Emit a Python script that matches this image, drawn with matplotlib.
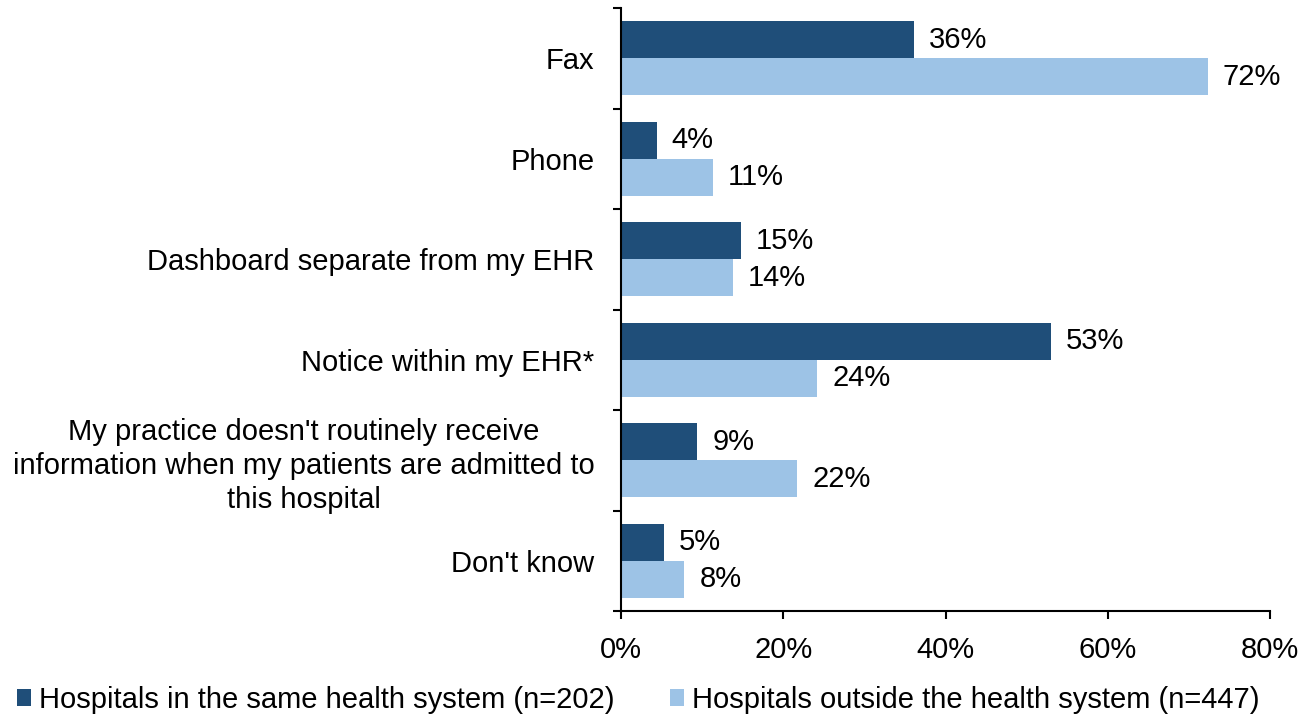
import matplotlib
matplotlib.use("Agg")
import matplotlib.pyplot as plt
import numpy as np

categories = [
    "Fax",
    "Phone",
    "Dashboard separate from my EHR",
    "Notice within my EHR*",
    "My practice doesn't routinely receive\ninformation when my patients are admitted to\nthis hospital",
    "Don't know",
]
same_system = [36.1, 4.4, 14.8, 53.0, 9.4, 5.3]
outside_system = [72.3, 11.3, 13.8, 24.2, 21.7, 7.8]
same_labels = ["36%", "4%", "15%", "53%", "9%", "5%"]
outside_labels = ["72%", "11%", "14%", "24%", "22%", "8%"]
series_names = ["Hospitals in the same health system (n=202)",
                "Hospitals outside the health system (n=447)"]
x_ticks = [0, 20, 40, 60, 80]

dark = "#1F4E79"
light = "#9DC3E6"

plt.rcParams['font.family'] = ['Liberation Sans', 'DejaVu Sans']
fs = 21

fig = plt.figure(figsize=(13.1, 7.21), dpi=100)
ax = fig.add_axes([621/1310, 1-611/721, (1270-621)/1310, (611-8)/721])

y = np.arange(len(categories))
h = 0.37
b1 = ax.barh(y - h/2, same_system, height=h, color=dark, label=series_names[0])
b2 = ax.barh(y + h/2, outside_system, height=h, color=light, label=series_names[1])

for bars, labs in ((b1, same_labels), (b2, outside_labels)):
    for rect, lab in zip(bars, labs):
        ax.annotate(lab, (rect.get_width(), rect.get_y() + rect.get_height()/2),
                    xytext=(15, 0), textcoords="offset pixels",
                    ha="left", va="center", fontsize=fs, color="black")

ax.set_xlim(0, 80)
ax.set_ylim(len(categories) - 0.5, -0.5)
ax.set_xticks(x_ticks)
ax.set_xticklabels([f"{t}%" for t in x_ticks], fontsize=fs)
ax.set_yticks(np.arange(len(categories) + 1) - 0.5)
ax.set_yticklabels([])
ax.set_yticks(y, minor=True)
ax.set_yticklabels(categories, minor=True, fontsize=fs, multialignment="center",
                   linespacing=1.28)
ax.tick_params(axis="y", which="minor", length=0, pad=19)
ax.tick_params(axis="y", which="major", length=6, width=1.5, direction="out")
ax.tick_params(axis="x", length=6, width=1.5, direction="out", pad=12)

for s in ("top", "right"):
    ax.spines[s].set_visible(False)
for s in ("left", "bottom"):
    ax.spines[s].set_linewidth(1.5)
    ax.spines[s].set_color("black")

fig.legend(handles=[b1, b2], labels=series_names, loc="center",
           bbox_to_anchor=(0.487, 1-700/721), ncol=2, frameon=False,
           fontsize=fs, handlelength=0.5, handleheight=0.5, handletextpad=0.25,
           columnspacing=1.9)

fig.savefig("out.png", dpi=100)
